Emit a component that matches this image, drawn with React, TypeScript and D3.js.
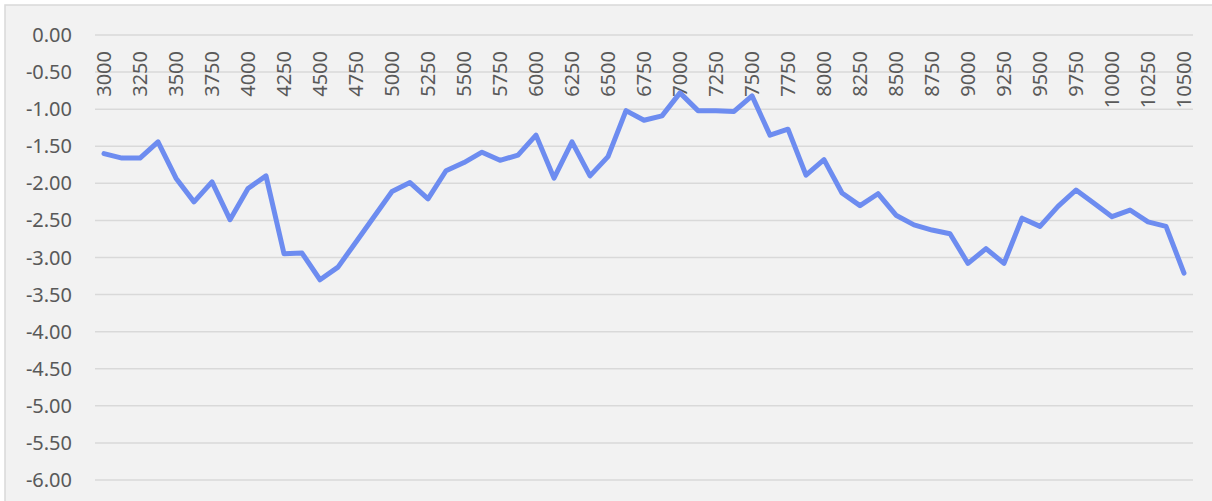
import React, { useEffect, useRef } from 'react'
import * as d3 from 'd3'

// x categories: 3000 .. 10500 every 125
const categories: number[] = [
  3000, 3125, 3250, 3375, 3500, 3625, 3750, 3875, 4000, 4125,
  4250, 4375, 4500, 4625, 4750, 4875, 5000, 5125, 5250, 5375,
  5500, 5625, 5750, 5875, 6000, 6125, 6250, 6375, 6500, 6625,
  6750, 6875, 7000, 7125, 7250, 7375, 7500, 7625, 7750, 7875,
  8000, 8125, 8250, 8375, 8500, 8625, 8750, 8875, 9000, 9125,
  9250, 9375, 9500, 9625, 9750, 9875, 10000, 10125, 10250, 10375,
  10500,
]

const values: number[] = [
  -1.60, -1.66, -1.66, -1.44, -1.93, -2.25, -1.98, -2.49, -2.07, -1.90,
  -2.95, -2.94, -3.30, -3.13, -2.79, -2.45, -2.11, -1.99, -2.21, -1.83,
  -1.72, -1.58, -1.69, -1.62, -1.35, -1.93, -1.44, -1.90, -1.64, -1.02,
  -1.15, -1.09, -0.78, -1.02, -1.02, -1.03, -0.82, -1.35, -1.27, -1.89,
  -1.68, -2.13, -2.30, -2.14, -2.43, -2.56, -2.63, -2.68, -3.08, -2.88,
  -3.08, -2.47, -2.58, -2.31, -2.09, -2.27, -2.45, -2.36, -2.52, -2.58,
  -3.21,
]

const yTicks: number[] = [0, -0.5, -1, -1.5, -2, -2.5, -3, -3.5, -4, -4.5, -5, -5.5, -6]

const W = 1212
const H = 501

export default function App() {
  const svgRef = useRef<SVGSVGElement>(null)

  useEffect(() => {
    const svg = d3.select(svgRef.current)
    svg.selectAll('*').remove()

    const left = 95
    const right = 1193
    const top = 35
    const bottom = 480
    const font = "'Noto Sans', 'Open Sans', sans-serif"

    // chart background + frame
    svg.append('rect')
      .attr('x', 5).attr('y', 5)
      .attr('width', W + 10).attr('height', H + 10)
      .attr('fill', '#f2f2f2')
      .attr('stroke', '#d9d9d9')
      .attr('stroke-width', 1.5)

    const x = d3.scaleBand<number>()
      .domain(categories)
      .range([left, right])
      .padding(0)

    const y = d3.scaleLinear()
      .domain([-6, 0])
      .range([bottom, top])

    // gridlines
    svg.append('g')
      .selectAll('line')
      .data(yTicks)
      .enter()
      .append('line')
      .attr('x1', left)
      .attr('x2', right)
      .attr('y1', d => y(d))
      .attr('y2', d => y(d))
      .attr('stroke', '#d9d9d9')
      .attr('stroke-width', 1.5)

    // y labels
    svg.append('g')
      .selectAll('text')
      .data(yTicks)
      .enter()
      .append('text')
      .attr('x', 72)
      .attr('y', d => y(d))
      .attr('dy', '0.35em')
      .attr('text-anchor', 'end')
      .attr('font-family', font)
      .attr('font-size', 20)
      .attr('fill', '#595959')
      .text(d => d.toFixed(2))

    // x labels, every other category, rotated
    const cx = (c: number) => (x(c) || 0) + x.bandwidth() / 2
    svg.append('g')
      .selectAll('text')
      .data(categories.filter((_, i) => i % 2 === 0))
      .enter()
      .append('text')
      .attr('transform', d => `translate(${cx(d)},51) rotate(-90)`)
      .attr('dy', '0.35em')
      .attr('text-anchor', 'end')
      .attr('font-family', font)
      .attr('font-size', 20)
      .attr('fill', '#595959')
      .text(d => String(d))

    // series line
    const line = d3.line<number>()
      .x((_, i) => cx(categories[i]))
      .y(d => y(d))

    svg.append('path')
      .datum(values)
      .attr('fill', 'none')
      .attr('stroke', '#6d8cf0')
      .attr('stroke-width', 5)
      .attr('stroke-linejoin', 'round')
      .attr('stroke-linecap', 'round')
      .attr('d', line)
  }, [])

  return (
    <div style={{ position: 'absolute', left: 0, top: 0, width: W, height: H, background: '#fff' }}>
      <svg ref={svgRef} width={W} height={H} style={{ display: 'block' }}></svg>
    </div>
  )
}
